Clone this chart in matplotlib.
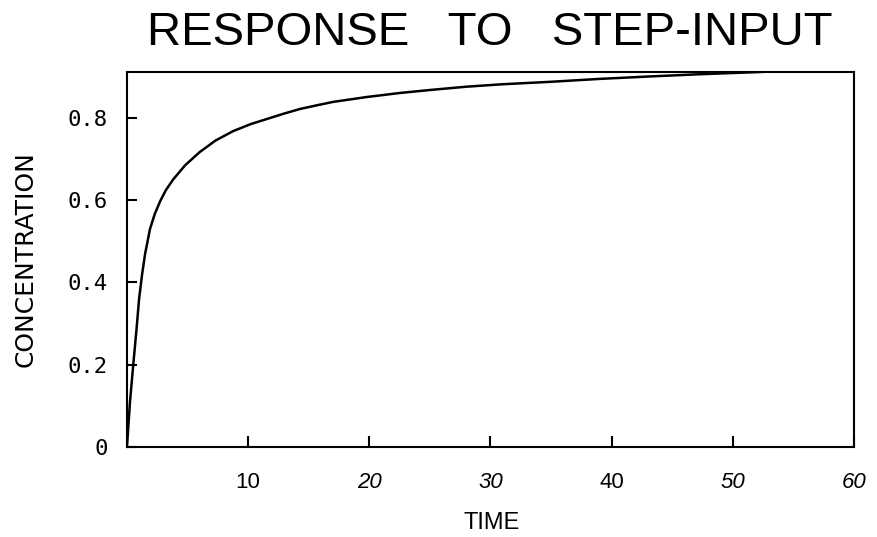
import matplotlib
matplotlib.use('Agg')
from matplotlib import pyplot as plt

# values
time = [0, 0.25, 0.52, 0.8, 1.0, 1.25, 1.5, 1.9, 2.3, 2.73, 3.2, 3.8, 4.8, 6.0,
        7.3, 8.76, 10.2, 11.6, 13.0, 14.3, 15.7, 17.0, 18.4, 19.8, 22.6, 25.0,
        28.0, 31.0, 35.0, 39.0, 43.2, 47.0, 51.5, 55.0, 60.0]
concentration = [0, 0.11, 0.2, 0.29, 0.36, 0.42, 0.47, 0.53, 0.567, 0.597, 0.624,
                 0.65, 0.685, 0.717, 0.745, 0.768, 0.785, 0.798, 0.811, 0.822,
                 0.831, 0.839, 0.845, 0.851, 0.861, 0.868, 0.876, 0.882, 0.888,
                 0.895, 0.901, 0.906, 0.911, 0.915, 0.92]

x_ticks = [10, 20, 30, 40, 50, 60]
x_tick_labels = ['10', '20', '30', '40', '50', '60']
x_italic = [False, True, True, False, True, True]
y_ticks = [0, 0.2, 0.4, 0.6, 0.8]
y_tick_labels = ['0', '0.2', '0.4', '0.6', '0.8']

fig = plt.figure(figsize=(8.78, 5.37), dpi=100)
ax = fig.add_axes([0.1446, 0.1676, 0.8281, 0.6985])

ax.plot(time, concentration, color='black', linewidth=1.8)
ax.set_xlim(0, 60)
ax.set_ylim(0, 0.912)

for s in ax.spines.values():
    s.set_linewidth(1.5)

ax.set_xticks(x_ticks)
ax.set_xticklabels(x_tick_labels, fontfamily='Liberation Sans', fontsize=16)
for lab, it in zip(ax.get_xticklabels(), x_italic):
    if it:
        lab.set_fontstyle('italic')
ax.set_yticks(y_ticks)
ax.set_yticklabels(y_tick_labels, fontfamily='DejaVu Sans Mono', fontsize=16)
ax.tick_params(axis='x', direction='in', length=8, width=1.5, pad=18)
ax.tick_params(axis='y', direction='in', length=7, width=1.5, pad=14)

fig.text(0.558, 0.938, 'RESPONSE   TO   STEP-INPUT', ha='center', va='center',
         fontfamily='Liberation Sans', fontsize=34)
fig.text(0.56, 0.027, 'TIME', ha='center', va='center',
         fontfamily='Liberation Sans', fontsize=17)
fig.text(0.029, 0.517, 'CONCENTRATION', ha='center', va='center', rotation=90,
         fontfamily='DejaVu Sans', fontsize=18)

plt.savefig('out.png', dpi=100)
